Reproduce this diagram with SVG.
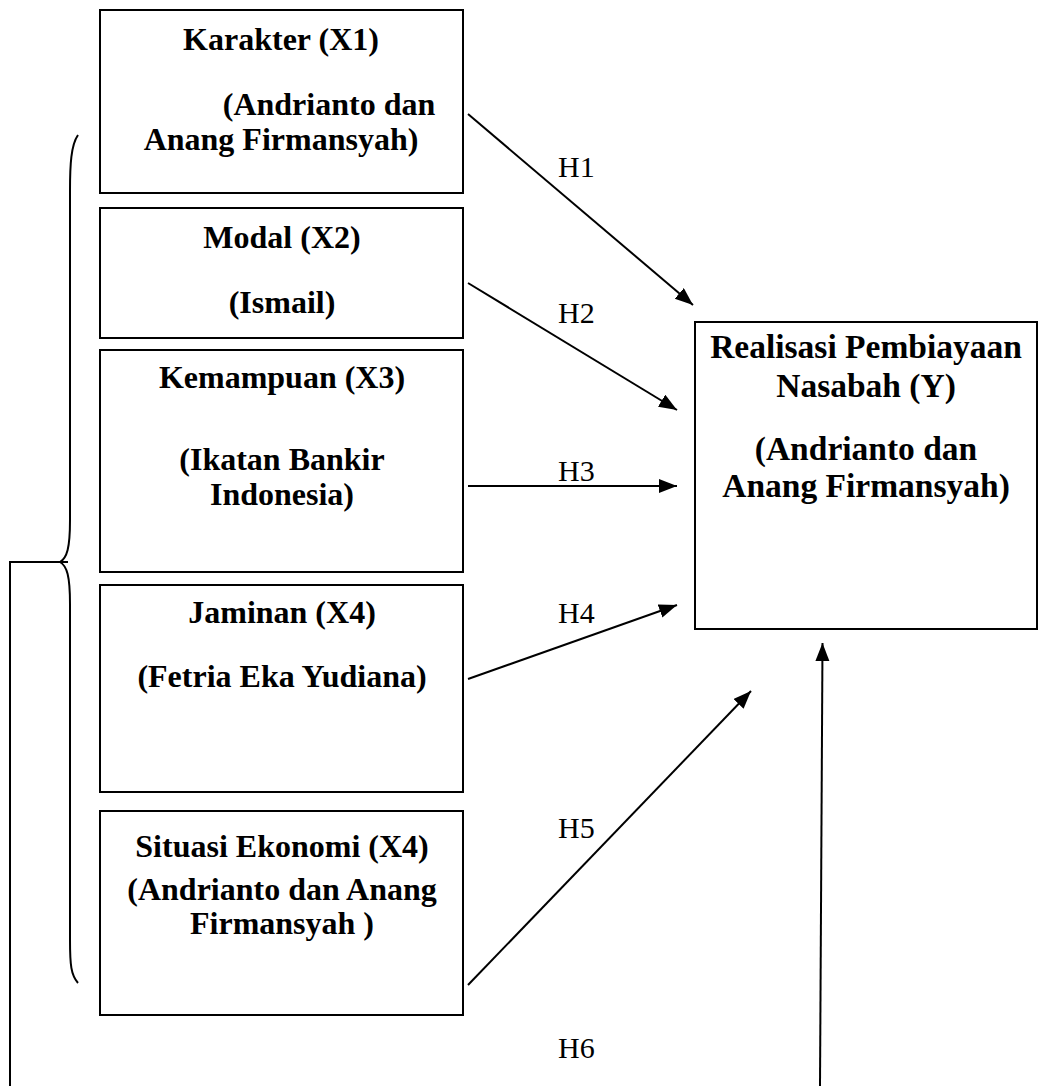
<svg xmlns="http://www.w3.org/2000/svg" width="1040" height="1086" viewBox="0 0 1040 1086">
<defs>
<style>
.box{fill:#fff;stroke:#000;stroke-width:2}
.t{font-family:"Liberation Serif","Times New Roman",serif;font-weight:bold;font-size:32px;fill:#000;text-anchor:middle}
.ty{font-size:33.5px}
.h{font-family:"Liberation Serif","Times New Roman",serif;font-size:30px;fill:#000}
.ln{fill:none;stroke:#000;stroke-width:2}
</style>
<marker id="ah" markerUnits="userSpaceOnUse" markerWidth="20" markerHeight="16" refX="18" refY="7" orient="auto">
<path d="M0,0 L18,7 L0,14 Z" fill="#000"/>
</marker>
</defs>
<rect width="1040" height="1086" fill="#fff"/>

<g id="x1">
<rect class="box" x="100" y="10" width="363" height="183"/>
<text class="t" x="281" y="50">Karakter (X1)</text>
<text class="t" x="329" y="115">(Andrianto dan</text>
<text class="t" x="281" y="150">Anang Firmansyah)</text>
</g>
<g id="x2">
<rect class="box" x="100" y="208" width="363" height="130"/>
<text class="t" x="282" y="248">Modal (X2)</text>
<text class="t" x="282" y="313">(Ismail)</text>
</g>
<g id="x3">
<rect class="box" x="100" y="350" width="363" height="222"/>
<text class="t" x="282" y="388">Kemampuan (X3)</text>
<text class="t" x="282" y="470">(Ikatan Bankir</text>
<text class="t" x="282" y="505">Indonesia)</text>
</g>
<g id="x4">
<rect class="box" x="100" y="585" width="363" height="207"/>
<text class="t" x="282" y="623">Jaminan (X4)</text>
<text class="t" x="282" y="687">(Fetria Eka Yudiana)</text>
</g>
<g id="x5">
<rect class="box" x="100" y="811" width="363" height="204"/>
<text class="t" x="282" y="857">Situasi Ekonomi (X4)</text>
<text class="t" x="282" y="900">(Andrianto dan Anang</text>
<text class="t" x="282" y="934">Firmansyah )</text>
</g>
<g id="y">
<rect class="box" x="695" y="322" width="342" height="307"/>
<text class="t ty" x="866" y="358">Realisasi Pembiayaan</text>
<text class="t ty" x="866" y="397">Nasabah (Y)</text>
<text class="t ty" x="866" y="460">(Andrianto dan</text>
<text class="t ty" x="866" y="497">Anang Firmansyah)</text>
</g>

<g id="connectors">
<path class="ln" d="M78,135 C71,145 70,165 70,190 L70,520 C70,548 67,558 60,562 C67,566 70,576 70,604 L70,940 C70,965 71,975 78,983"/>
<path class="ln" d="M68,562 L10,562 L10,1086"/>
<line class="ln" x1="468" y1="114" x2="693" y2="305" marker-end="url(#ah)"/>
<line class="ln" x1="468" y1="283" x2="677" y2="410" marker-end="url(#ah)"/>
<line class="ln" x1="468" y1="486" x2="677" y2="486" marker-end="url(#ah)"/>
<line class="ln" x1="468" y1="679" x2="677" y2="605" marker-end="url(#ah)"/>
<line class="ln" x1="468" y1="985" x2="751" y2="691" marker-end="url(#ah)"/>
<line class="ln" x1="820" y1="1086" x2="822.5" y2="643" marker-end="url(#ah)"/>
<text class="h" x="558" y="177">H1</text>
<text class="h" x="558" y="323">H2</text>
<text class="h" x="558" y="481">H3</text>
<text class="h" x="558" y="623">H4</text>
<text class="h" x="558" y="838">H5</text>
<text class="h" x="558" y="1058">H6</text>
</g>
</svg>
